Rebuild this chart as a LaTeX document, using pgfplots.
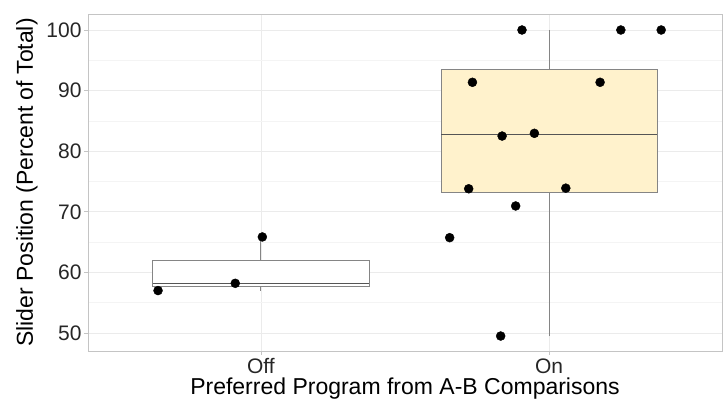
\documentclass[border=0pt]{standalone}
\usepackage{pgfplots}
\pgfplotsset{compat=1.18}
\usepackage{fontspec}
\setmainfont{Liberation Sans}
\definecolor{boxfill}{HTML}{FFF2CC}
\definecolor{boxline}{HTML}{858585}
\definecolor{medline}{HTML}{555555}
\definecolor{gridmaj}{HTML}{EBEBEB}
\definecolor{gridmin}{HTML}{F4F4F4}
\definecolor{frame}{HTML}{C4C4C4}
\begin{document}
\begin{tikzpicture}
\useasboundingbox (0,0) rectangle (723pt,401pt);
\begin{axis}[
  at={(88pt,50pt)}, anchor=south west,
  scale only axis, width=634pt, height=337pt,
  xmin=0.4, xmax=2.6, ymin=47.03, ymax=102.64,
  xtick={1,2}, xticklabels={Off,On},
  ytick={50,60,70,80,90,100},
  minor ytick={55,65,75,85,95},
  grid=both,
  major grid style={gridmaj, line width=0.7pt},
  minor grid style={gridmin, line width=0.5pt},
  axis line style={frame, line width=0.8pt},
  tick style={frame, line width=0.8pt},
  minor tick length=0pt,
  major tick length=4pt,
  tick align=outside,
  xtick pos=bottom, ytick pos=left,
  /pgf/number format/assume math mode=true,
  ticklabel style={font=\fontsize{21}{23}\selectfont, text=black!85},
  label style={font=\fontsize{23}{26}\selectfont, text=black},
  xlabel={Preferred Program from A-B Comparisons},
  ylabel={Slider Position (Percent of Total)},
  xlabel style={at={(axis description cs:0.5,0)}, anchor=base, yshift=-44pt},
  ylabel style={at={(axis description cs:-0.0962,0.5)}, anchor=center},
  xticklabel style={anchor=base, yshift=-19pt},
  yticklabel style={xshift=1pt},
]
% Off box
\addplot[draw=boxline, line width=0.9pt] coordinates {(1,61.95) (1,65.8)};
\addplot[draw=boxline, line width=0.9pt] coordinates {(1,57.0) (1,57.6)};
\addplot[draw=boxline, fill=white, line width=0.9pt] coordinates {
  (0.625,57.6) (1.375,57.6) (1.375,61.95) (0.625,61.95)} -- cycle;
\addplot[draw=medline, line width=1.5pt] coordinates {(0.625,58.2) (1.375,58.2)};
% On box
\addplot[draw=boxline, line width=0.9pt] coordinates {(2,93.5) (2,100)};
\addplot[draw=boxline, line width=0.9pt] coordinates {(2,49.5) (2,73.15)};
\addplot[draw=boxline, fill=boxfill, line width=0.9pt] coordinates {
  (1.625,73.15) (2.375,73.15) (2.375,93.5) (1.625,93.5)} -- cycle;
\addplot[draw=medline, line width=1.5pt] coordinates {(1.625,82.72) (2.375,82.72)};
% points
\addplot[only marks, mark=*, mark size=4.5pt, black] coordinates {
  (0.643,57.0) (0.911,58.2) (1.005,65.85)
  (1.906,100) (2.249,100) (2.389,100)
  (1.734,91.37) (2.177,91.37)
  (1.837,82.5) (1.949,82.95)
  (1.721,73.8) (2.058,73.9)
  (1.884,70.96) (1.655,65.73) (1.832,49.5)
};
\end{axis}
\end{tikzpicture}
\end{document}
